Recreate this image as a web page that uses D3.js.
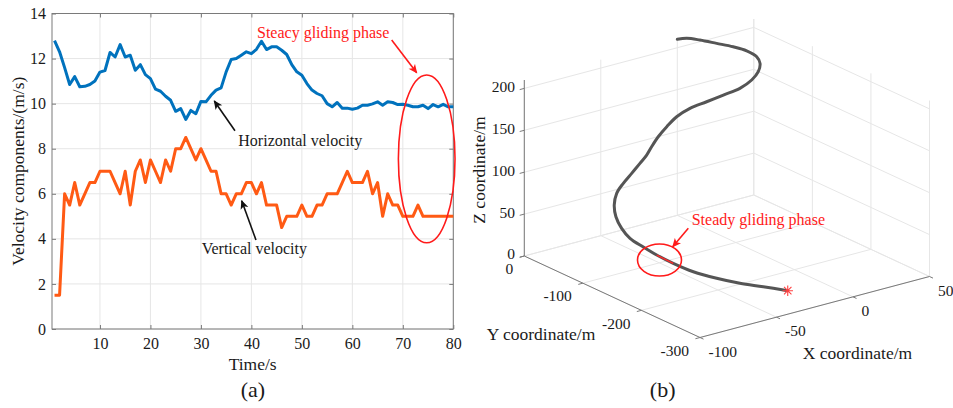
<!DOCTYPE html>
<html><head><meta charset="utf-8">
<script src="https://cdn.jsdelivr.net/npm/d3@7/dist/d3.min.js"></script>
<style>body{margin:0;background:#fff}svg{display:block}
svg text{font-family:'Liberation Serif','Times New Roman',Times,'DejaVu Serif',serif;}</style>
</head><body>
<svg id="c" width="953" height="408"></svg>
<script>
// ---------------- DATA ----------------
const time = [1,2,3,4,5,6,7,8,9,10,11,12,13,14,15,16,17,18,19,20,21,22,23,24,25,26,27,28,29,30,31,32,33,34,35,36,37,38,39,40,41,42,43,44,45,46,47,48,49,50,51,52,53,54,55,56,57,58,59,60,61,62,63,64,65,66,67,68,69,70,71,72,73,74,75,76,77,78,79,80];
const horizontalVelocity = [12.8,12.3,11.6,10.85,11.2,10.75,10.77,10.85,11.0,11.4,11.47,12.27,12.07,12.62,12.07,12.15,11.48,11.73,11.29,11.11,10.64,10.55,10.33,10.15,9.66,9.78,9.3,9.7,9.55,10.1,10.08,10.37,10.6,10.7,11.41,11.96,12.0,12.15,12.3,12.22,12.41,12.77,12.4,12.52,12.52,12.37,12.18,11.73,11.41,11.26,10.89,10.6,10.45,10.35,10.0,9.86,10.05,9.8,9.8,9.75,9.8,9.93,9.93,9.99,10.08,9.93,10.08,10.05,9.96,9.97,9.93,9.86,9.86,9.93,9.78,9.96,9.86,9.97,9.86,9.86];
const verticalVelocity = [1.5,1.5,6,5.5,6.5,5.5,6,6.5,6.5,7,7,7,6.5,6,7,5.5,7,7.5,6.5,7.5,7,6.5,7.5,7,8,8,8.5,8,7.5,8,7.5,7,7,6,6,5.5,6,6,6.5,6.5,6,6.5,5.5,5.5,5.5,4.5,5,5,5,5.5,5,5,5.5,5.5,6,6,6,6.5,7,6.5,6.5,6.5,7,6,6.5,5,6,5.5,5.5,5,5,5,5.5,5,5,5,5,5,5,5];
const timeTicks = [10,20,30,40,50,60,70,80];
const velocityTicks = [0,2,4,6,8,10,12,14];

const trajX = [0,5.2,11.0,18.0,25.6,32.1,35.4,35.4,32.4,27.5,20.4,12.8,5.1,-2.5,-10.3,-18.1,-24.6,-30.3,-33.8,-38.0,-44.4,-50.8,-56.5,-62.0,-65.8,-67.8,-68.0,-65.0,-62.1,-58.2,-53.6,-46.8,-39.0,-30.1,-21.6];
const trajY = [0,-2.6,-9.9,-20.2,-28.6,-34.6,-43.1,-48.8,-53.6,-55.2,-53.6,-45.2,-36.8,-28.2,-25.8,-29.3,-31.7,-35.3,-36.0,-35.5,-38.1,-40.5,-44.1,-54.3,-67.1,-82.1,-96.9,-111.8,-127.1,-145.1,-167.4,-189.5,-208.8,-225.4,-245.0];
const trajZ = [210,209.5,207,203,198,192,186,180,173,166,159,152,145,138,131,124,116,108,100,92,84,76,68,60,52,44,37,30,24,18,13,9,5.5,2.5,0];
const xTicks3 = [-100,-50,0,50];
const yTicks3 = [0,-100,-200,-300];
const zTicks3 = [0,50,100,150,200];
const steadyIdx = [28,30];

// ---------------- DRAW ----------------
const svg = d3.select('#c');
const gridC = '#e6e6e6', axisC = '#7a7a7a', txtC = '#1a1a1a';

const defs = svg.append('defs');
function marker(id, col){
  defs.append('marker').attr('id',id).attr('viewBox','0 0 10 10').attr('refX',9).attr('refY',5)
    .attr('markerWidth',10).attr('markerHeight',9).attr('markerUnits','userSpaceOnUse').attr('orient','auto')
    .append('path').attr('d','M0,0.5 L10,5 L0,9.5 L2.5,5 Z').attr('fill',col);
}
marker('ab','#111'); marker('ar','#ff1a1a');

// ===== Panel (a) =====
const x = d3.scaleLinear().domain([0.5,80]).range([52,453.3]);
const y = d3.scaleLinear().domain([0,14]).range([329,13.5]);
const ga = svg.append('g');
ga.selectAll('line.gx').data(timeTicks).join('line').attr('class','gx')
  .attr('x1',d=>x(d)).attr('x2',d=>x(d)).attr('y1',y(0)).attr('y2',y(14)).attr('stroke',gridC);
ga.selectAll('line.gy').data(velocityTicks).join('line').attr('class','gy')
  .attr('y1',d=>y(d)).attr('y2',d=>y(d)).attr('x1',x(0.5)).attr('x2',x(80)).attr('stroke',gridC);

function styleAxis(g, labels){
  g.select('.domain').remove();
  g.selectAll('.tick line').attr('stroke',axisC);
  g.attr('font-family',null).attr('font-size',null);
  if(labels) g.selectAll('.tick text').attr('font-size',16).attr('fill',txtC);
  else g.selectAll('.tick text').remove();
}
ga.append('g').attr('transform',`translate(0,${y(0)})`)
  .call(d3.axisBottom(x).tickValues(timeTicks).tickSize(-4).tickPadding(9)).call(g=>styleAxis(g,true));
ga.append('g').attr('transform',`translate(0,${y(14)})`)
  .call(d3.axisTop(x).tickValues(timeTicks).tickSize(-4)).call(g=>styleAxis(g,false));
ga.append('g').attr('transform',`translate(${x(0.5)},0)`)
  .call(d3.axisLeft(y).tickValues(velocityTicks).tickSize(-4).tickPadding(6)).call(g=>styleAxis(g,true));
ga.append('g').attr('transform',`translate(${x(80)},0)`)
  .call(d3.axisRight(y).tickValues(velocityTicks).tickSize(-4)).call(g=>styleAxis(g,false));
ga.append('rect').attr('x',x(0.5)).attr('y',y(14)).attr('width',x(80)-x(0.5)).attr('height',y(0)-y(14))
  .attr('fill','none').attr('stroke',axisC).attr('stroke-width',1);

const lineA = d3.line().x((d,i)=>x(time[i])).y(d=>y(d));
ga.append('path').datum(verticalVelocity).attr('d',lineA).attr('fill','none')
  .attr('stroke','#ff5a14').attr('stroke-width',3).attr('stroke-linejoin','round');
ga.append('path').datum(horizontalVelocity).attr('d',lineA).attr('fill','none')
  .attr('stroke','#0072bd').attr('stroke-width',3).attr('stroke-linejoin','round');

// annotations (a)
function txt(g,t,px,py,opt={}){
  return g.append('text').attr('x',px).attr('y',py).text(t)
    .attr('font-size',opt.size||16).attr('fill',opt.fill||txtC).attr('text-anchor',opt.anchor||'start');
}
function arrow(g,x1,y1,x2,y2,col,mk){
  g.append('line').attr('x1',x1).attr('y1',y1).attr('x2',x2).attr('y2',y2)
    .attr('stroke',col).attr('stroke-width',1.6).attr('marker-end',`url(#${mk})`);
}
txt(ga,'Steacy gliding phase',x(41.11),y(12.93),{fill:'#ff1a1a'});
arrow(ga,x(67.79),y(12.82),x(72.75),y(11.37),'#ff1a1a','ar');
ga.append('ellipse').attr('cx',x(74.73)).attr('cy',y(7.55)).attr('rx',x(74.73)-x(74.73-5.61)).attr('ry',y(7.55-3.72)-y(7.55))
  .attr('fill','none').attr('stroke','#ff1a1a').attr('stroke-width',1.6);
txt(ga,'Horizontal velocity',x(37.41),y(8.10));
arrow(ga,x(36.75),y(8.80),x(32.65),y(10.12),'#111','ab');
txt(ga,'Vertical velocity',x(30.16),y(3.33));
arrow(ga,x(40.91),y(3.95),x(38.08),y(5.69),'#111','ab');

txt(ga,'Time/s',(x(0.5)+x(80))/2,369.5,{size:17.5,anchor:'middle'});
ga.append('text').attr('transform',`translate(23.5,${(y(0)+y(14))/2})rotate(-90)`)
  .attr('text-anchor','middle').attr('font-size',17.5).attr('fill',txtC)
  .text('Velocity components/(m/s)');
txt(ga,'(a)',253,397,{size:22,anchor:'middle'});

// ===== Panel (b) =====
const A=[524.3,256], B=[700,337.5], C=[929.5,276.5];
const sx3 = d3.scaleLinear().domain([-100,50]).range([0,1]);
const sy3 = d3.scaleLinear().domain([-300,0]).range([0,1]);
const sz3 = d3.scaleLinear().domain([0,210]).range([0,176]);
function P(X,Y,Z){
  const fx=sx3(X), fy=sy3(Y);
  return [B[0]+fx*(C[0]-B[0])+fy*(A[0]-B[0]), B[1]+fx*(C[1]-B[1])+fy*(A[1]-B[1])-sz3(Z)];
}
const gb = svg.append('g');
const segs = [];
const zTop = sz3.domain()[1];
xTicks3.forEach(v=>segs.push([[v,0,0],[v,-300,0]]));
yTicks3.forEach(v=>segs.push([[-100,v,0],[50,v,0]]));
xTicks3.forEach(v=>segs.push([[v,0,0],[v,0,zTop]]));
zTicks3.forEach(v=>segs.push([[-100,0,v],[50,0,v]]));
yTicks3.forEach(v=>segs.push([[50,v,0],[50,v,zTop]]));
zTicks3.forEach(v=>segs.push([[50,0,v],[50,-300,v]]));
gb.selectAll('line.g3').data(segs).join('line').attr('class','g3')
  .attr('x1',d=>P(...d[0])[0]).attr('y1',d=>P(...d[0])[1]).attr('x2',d=>P(...d[1])[0]).attr('y2',d=>P(...d[1])[1])
  .attr('stroke',gridC).attr('stroke-width',1);
const axes = [[[-100,0,0],[-100,0,zTop]],[[-100,0,0],[-100,-300,0]],[[-100,-300,0],[50,-300,0]]];
gb.selectAll('line.ax3').data(axes).join('line').attr('class','ax3')
  .attr('x1',d=>P(...d[0])[0]).attr('y1',d=>P(...d[0])[1]).attr('x2',d=>P(...d[1])[0]).attr('y2',d=>P(...d[1])[1])
  .attr('stroke',axisC).attr('stroke-width',1);
const tk = [];
zTicks3.forEach(v=>tk.push([[-100,0,v],[-103,0,v]]));
yTicks3.forEach(v=>tk.push([[-100,v,0],[-103,v,0]]));
xTicks3.forEach(v=>tk.push([[v,-300,0],[v,-306,0]]));
gb.selectAll('line.tk3').data(tk).join('line').attr('class','tk3')
  .attr('x1',d=>P(...d[0])[0]).attr('y1',d=>P(...d[0])[1]).attr('x2',d=>P(...d[1])[0]).attr('y2',d=>P(...d[1])[1])
  .attr('stroke',axisC).attr('stroke-width',1);
zTicks3.forEach(v=>{const p=P(-100,0,v); txt(gb,String(v),p[0]-9.3,p[1]+(v===0?3:4),{anchor:'end',size:15.5});});
yTicks3.forEach(v=>{const p=P(-100,v,0); txt(gb,String(v),p[0]-11,p[1]+18.3,{anchor:'end',size:15.5});});
xTicks3.forEach(v=>{const p=P(v,-300,0); txt(gb,String(v),p[0]+8.5,p[1]+19.1,{size:15.5});});
gb.append('text').attr('transform','translate(485,170)rotate(-90)').attr('text-anchor','middle')
  .attr('font-size',17.5).attr('fill',txtC).text('Z coordinate/m');
txt(gb,'Y coordinate/m',541,339.5,{size:17.5,anchor:'middle'});
txt(gb,'X coordinate/m',857.5,359,{size:17.5,anchor:'middle'});
txt(gb,'(b)',662.7,397,{size:22,anchor:'middle'});

const pts = trajX.map((v,i)=>P(v,trajY[i],trajZ[i]));
const line3 = d3.line().curve(d3.curveCatmullRom.alpha(0.5));
gb.append('path').attr('d',line3(pts)).attr('fill','none').attr('stroke','#555').attr('stroke-width',3)
  .attr('stroke-linecap','round');
gb.append('path').attr('d',line3(pts.slice(steadyIdx[0],steadyIdx[1]))).attr('fill','none')
  .attr('stroke','#ff2a2a').attr('stroke-width',1.4);
const asterisk = {draw(ctx,size){const r=Math.sqrt(size)/2; const d=r*0.7071;
  ctx.moveTo(-r,0);ctx.lineTo(r,0);ctx.moveTo(0,-r);ctx.lineTo(0,r);
  ctx.moveTo(-d,-d);ctx.lineTo(d,d);ctx.moveTo(-d,d);ctx.lineTo(d,-d);}};
const endP = pts[pts.length-1];
gb.append('path').attr('transform',`translate(${endP[0]},${endP[1]})`)
  .attr('d',d3.symbol().type(asterisk).size(110)()).attr('fill','none').attr('stroke','#ff4040').attr('stroke-width',1.1);

txt(gb,'Steady gliding phase',691.7,224.5,{fill:'#ff1a1a'});
arrow(gb,688.3,228.3,672.7,246.7,'#ff1a1a','ar');
gb.append('ellipse').attr('cx',659.5).attr('cy',260).attr('rx',22).attr('ry',16)
  .attr('fill','none').attr('stroke','#ff1a1a').attr('stroke-width',1.6);
</script>
</body></html>
